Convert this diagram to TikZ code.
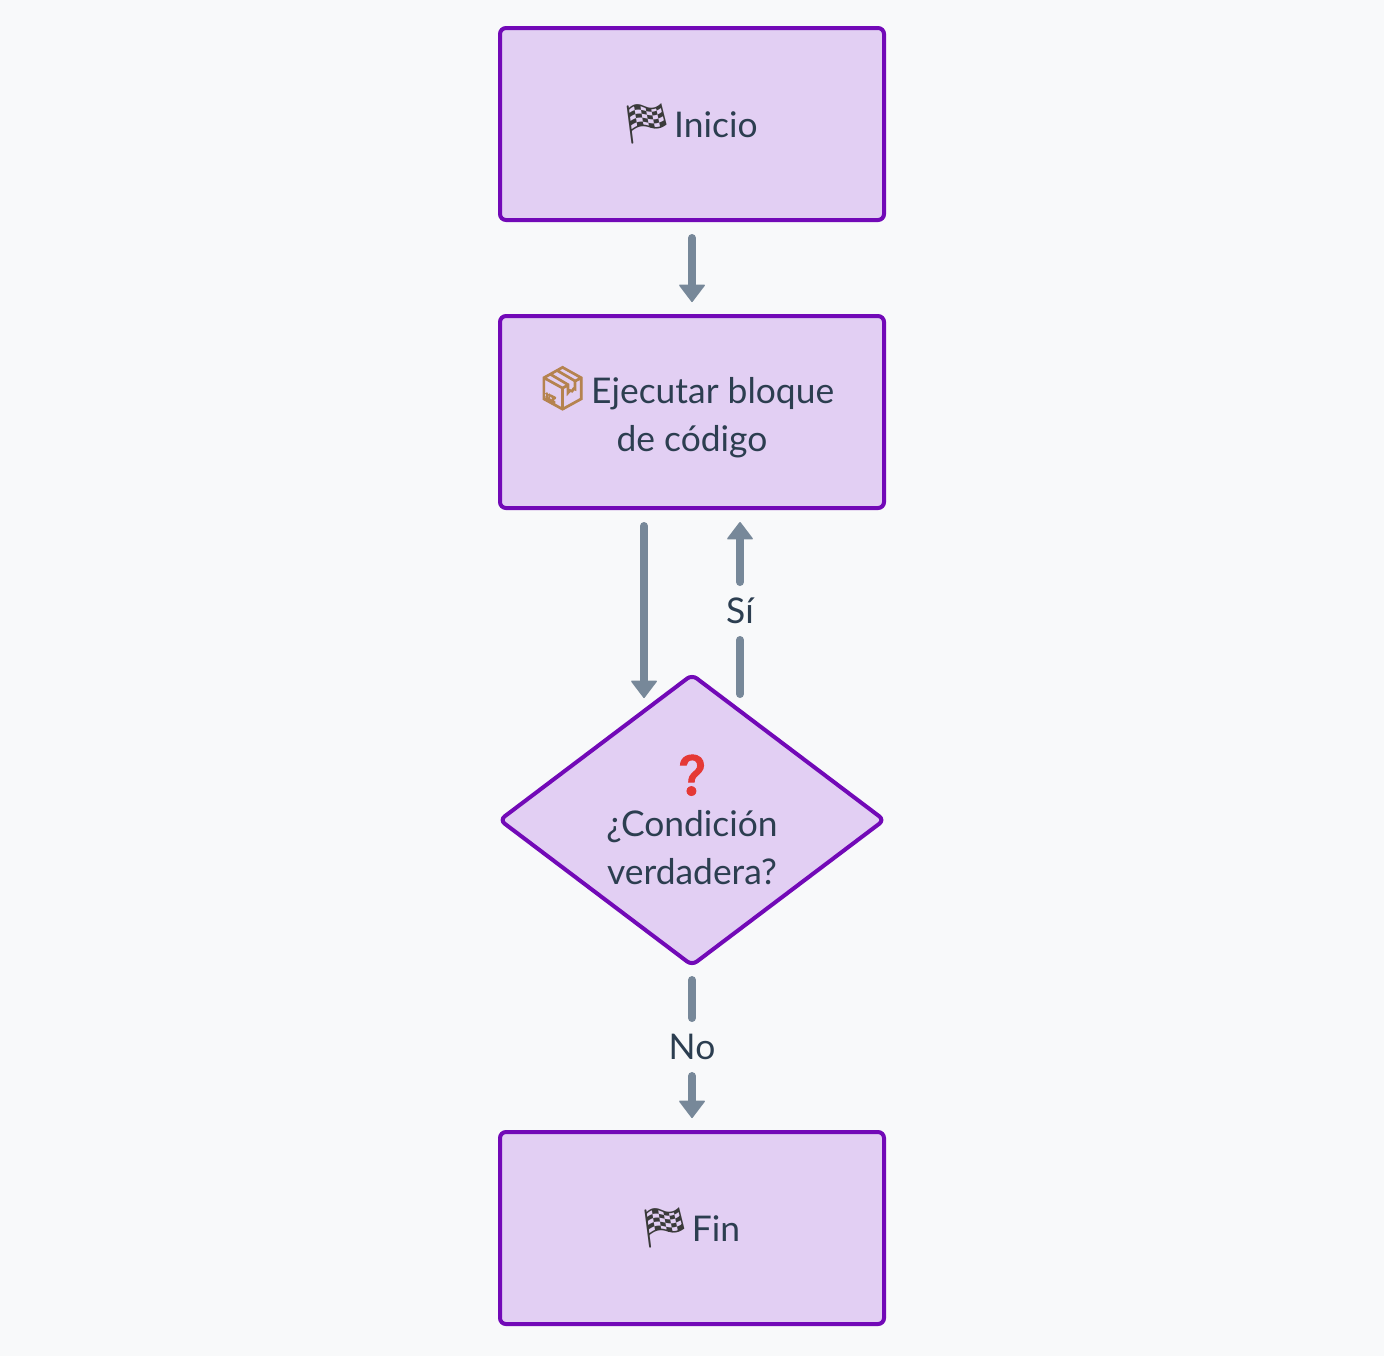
\documentclass[tikz,border=0pt]{standalone}
\usepackage{fontspec}
\setmainfont{Lato}
\newfontfamily\emojifont{Noto Emoji}
\newfontfamily\crateemoji[FakeBold=2.5]{Noto Emoji}
\usetikzlibrary{arrows.meta,shapes.geometric}
\definecolor{pagebg}{HTML}{F8F9FA}
\definecolor{boxfill}{HTML}{E2CFF3}
\definecolor{boxline}{HTML}{7209B7}
\definecolor{flowline}{HTML}{778899}
\definecolor{inktext}{HTML}{2C3E50}
\definecolor{flagink}{HTML}{3A3A3A}
\definecolor{crateink}{HTML}{B5834F}
\definecolor{askink}{HTML}{E53935}
\newcommand{\flagmark}{{\fontsize{20}{24}\selectfont\emojifont\textcolor{flagink}{^^^^^1f3c1}}}
\newcommand{\cratemark}{{\fontsize{21}{24}\selectfont\crateemoji\textcolor{crateink}{^^^^^1f4e6}}}
\newcommand{\askmark}{{\fontsize{20}{24}\selectfont\crateemoji\textcolor{askink}{^^^^2753}}}
\tikzstyle{box node}=[font=\fontsize{17.7}{24}\selectfont,text=inktext,align=center,fill=boxfill,draw=boxline,line width=2pt,rounded corners=3pt,inner sep=0pt]
\tikzstyle{step box}=[box node,rectangle,minimum width=192pt,minimum height=96pt]
\tikzstyle{test box}=[box node,diamond,aspect=1.33,minimum width=193pt,minimum height=146pt]
\tikzstyle{edge label}=[font=\fontsize{17.7}{24}\selectfont,text=inktext,inner sep=0pt,outer sep=0pt,minimum height=29pt]
\tikzstyle{flow}=[draw=flowline,line width=4pt,line cap=round]
\tikzstyle{flow arrow}=[flow,-{Triangle[length=9pt,width=13.5pt,line width=0.8pt,round]}]

\begin{document}
\begin{tikzpicture}[x=0.5pt,y=-0.5pt]
    % Page
    \path[use as bounding box,fill=pagebg] (0,0) rectangle (1384,1356);
    % Steps and the test
    \foreach \pos/\name/\txt in {
        {(692,124)/Start/\flagmark\hspace{1pt}Inicio\hspace*{2.5pt}},
        {(692,412)/Exec/\cratemark\hspace{1pt}Ejecutar bloque\hspace*{7pt}\\de código},
        {(692,1228)/End/\flagmark\hspace{1pt}Fin\hspace*{2.5pt}}}
    \node[step box] (\name) at \pos {\txt};
    \node[test box] (Cond) at (692,820) {\askmark\\¿Condición\hspace*{6pt}\\verdadera?};
    % Labels on the edges
    \node[edge label] (Si) at (740,611) {Sí};
    \node[edge label] (No) at (692,1047) {No};
    % Free ends beside the middle of the shapes
    \coordinate (ExecLeft) at (644,509);
    \coordinate (ExecRight) at (740,509);
    \coordinate (CondLeft) at (644,712);
    \coordinate (CondRight) at (740,712);
    % Connect them
    \path[flow arrow,shorten <=8pt,shorten >=6pt] (Start) -- (Exec);
    \path[flow arrow,shorten <=8.5pt,shorten >=7pt] (ExecLeft) -- (CondLeft);
    \path[flow,shorten <=9pt] (CondRight) -- (Si);
    \path[flow arrow,shorten >=6.5pt] (Si) -- (ExecRight);
    \path[flow,shorten <=6pt] (Cond) -- (No);
    \path[flow arrow,shorten >=6pt] (No) -- (End);
\end{tikzpicture}
\end{document}
